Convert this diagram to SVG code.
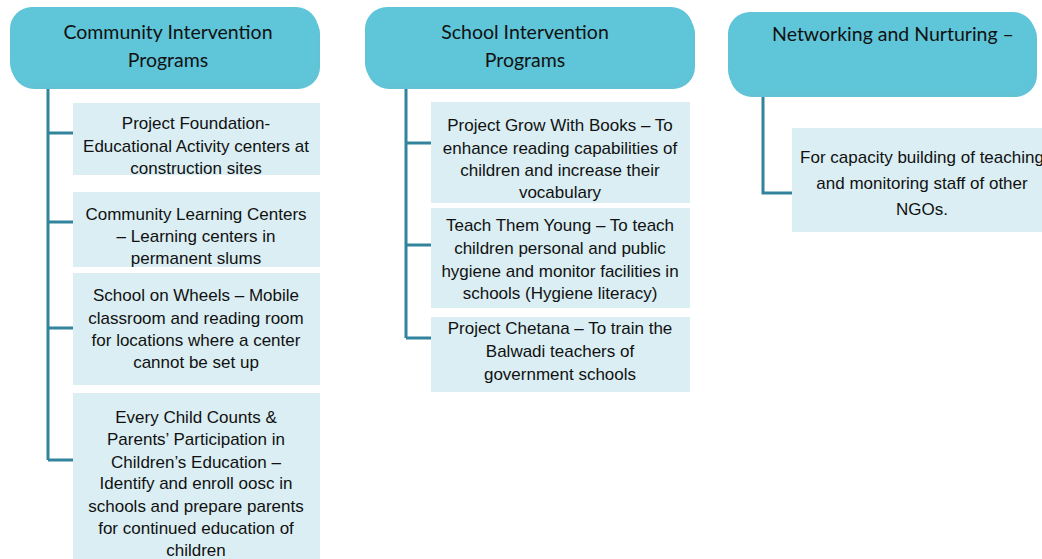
<svg xmlns="http://www.w3.org/2000/svg" width="1042" height="559" viewBox="0 0 1042 559">
<style>
.hdr{fill:#5FC5D9;}
.hdrs{fill:#62C3D6;}
.box{fill:#DAEEF3;}
.conn{fill:none;stroke:#31849B;stroke-width:3;}
.ht{font-family:Lato,"Open Sans",sans-serif;font-size:19.5px;fill:#111;text-anchor:middle;}
.bt{font-family:"Liberation Sans",Arial,sans-serif;font-size:17px;fill:#111;text-anchor:middle;}
</style>
<rect width="1042" height="559" fill="#fff"/>
<g id="connectors">
<path class="conn" d="M48 88 V460 M48 133 H73 M48 222 H73 M48 328 H73 M48 460 H73"/>
<path class="conn" d="M406 88 V338 M406 143 H431 M406 245 H431 M406 338 H431"/>
<path class="conn" d="M763 96 V193 H792"/>
</g>
<g id="h1">
<rect class="hdrs" x="12" y="12" width="308" height="77" rx="22"/>
<rect class="hdr" x="10" y="7" width="308" height="78" rx="22"/>
<text class="ht" x="168" y="39">Community Intervention</text>
<text class="ht" x="168" y="67">Programs</text>
</g>
<g id="h2">
<rect class="hdrs" x="367" y="12" width="328" height="77" rx="22"/>
<rect class="hdr" x="365" y="7" width="328" height="78" rx="22"/>
<text class="ht" x="525" y="39">School Intervention</text>
<text class="ht" x="525" y="67">Programs</text>
</g>
<g id="h3">
<rect class="hdrs" x="730" y="16" width="307" height="81" rx="22"/>
<rect class="hdr" x="728" y="12" width="307" height="80" rx="22"/>
<text class="ht" x="893" y="41">Networking and Nurturing –</text>
</g>
<g id="c1b1">
<rect class="box" x="73" y="103" width="247" height="72"/>
<text class="bt" x="196" y="129">Project Foundation-</text>
<text class="bt" x="196" y="152">Educational Activity centers at</text>
<text class="bt" x="196" y="174">construction sites</text>
</g>
<g id="c1b2">
<rect class="box" x="73" y="192" width="247" height="75"/>
<text class="bt" x="196" y="220">Community Learning Centers</text>
<text class="bt" x="196" y="242">– Learning centers in</text>
<text class="bt" x="196" y="264">permanent slums</text>
</g>
<g id="c1b3">
<rect class="box" x="73" y="273" width="247" height="112"/>
<text class="bt" x="196" y="301">School on Wheels – Mobile</text>
<text class="bt" x="196" y="324">classroom and reading room</text>
<text class="bt" x="196" y="346">for locations where a center</text>
<text class="bt" x="196" y="368">cannot be set up</text>
</g>
<g id="c1b4">
<rect class="box" x="73" y="393" width="247" height="166"/>
<text class="bt" x="196" y="423">Every Child Counts &amp;</text>
<text class="bt" x="196" y="445">Parents’ Participation in</text>
<text class="bt" x="196" y="468">Children’s Education –</text>
<text class="bt" x="196" y="489">Identify and enroll oosc in</text>
<text class="bt" x="196" y="512">schools and prepare parents</text>
<text class="bt" x="196" y="534">for continued education of</text>
<text class="bt" x="196" y="556">children</text>
</g>
<g id="c2b1">
<rect class="box" x="431" y="102" width="259" height="101"/>
<text class="bt" x="560" y="131">Project Grow With Books – To</text>
<text class="bt" x="560" y="154">enhance reading capabilities of</text>
<text class="bt" x="560" y="176">children and increase their</text>
<text class="bt" x="560" y="198">vocabulary</text>
</g>
<g id="c2b2">
<rect class="box" x="431" y="208" width="259" height="100"/>
<text class="bt" x="560" y="231">Teach Them Young – To teach</text>
<text class="bt" x="560" y="254">children personal and public</text>
<text class="bt" x="560" y="277">hygiene and monitor facilities in</text>
<text class="bt" x="560" y="299">schools (Hygiene literacy)</text>
</g>
<g id="c2b3">
<rect class="box" x="431" y="317" width="259" height="75"/>
<text class="bt" x="560" y="334">Project Chetana – To train the</text>
<text class="bt" x="560" y="357">Balwadi teachers of</text>
<text class="bt" x="560" y="380">government schools</text>
</g>
<g id="c3b1">
<rect class="box" x="792" y="128" width="260" height="104"/>
<text class="bt" x="922" y="163">For capacity building of teaching</text>
<text class="bt" x="922" y="189">and monitoring staff of other</text>
<text class="bt" x="922" y="215">NGOs.</text>
</g>
</svg>
